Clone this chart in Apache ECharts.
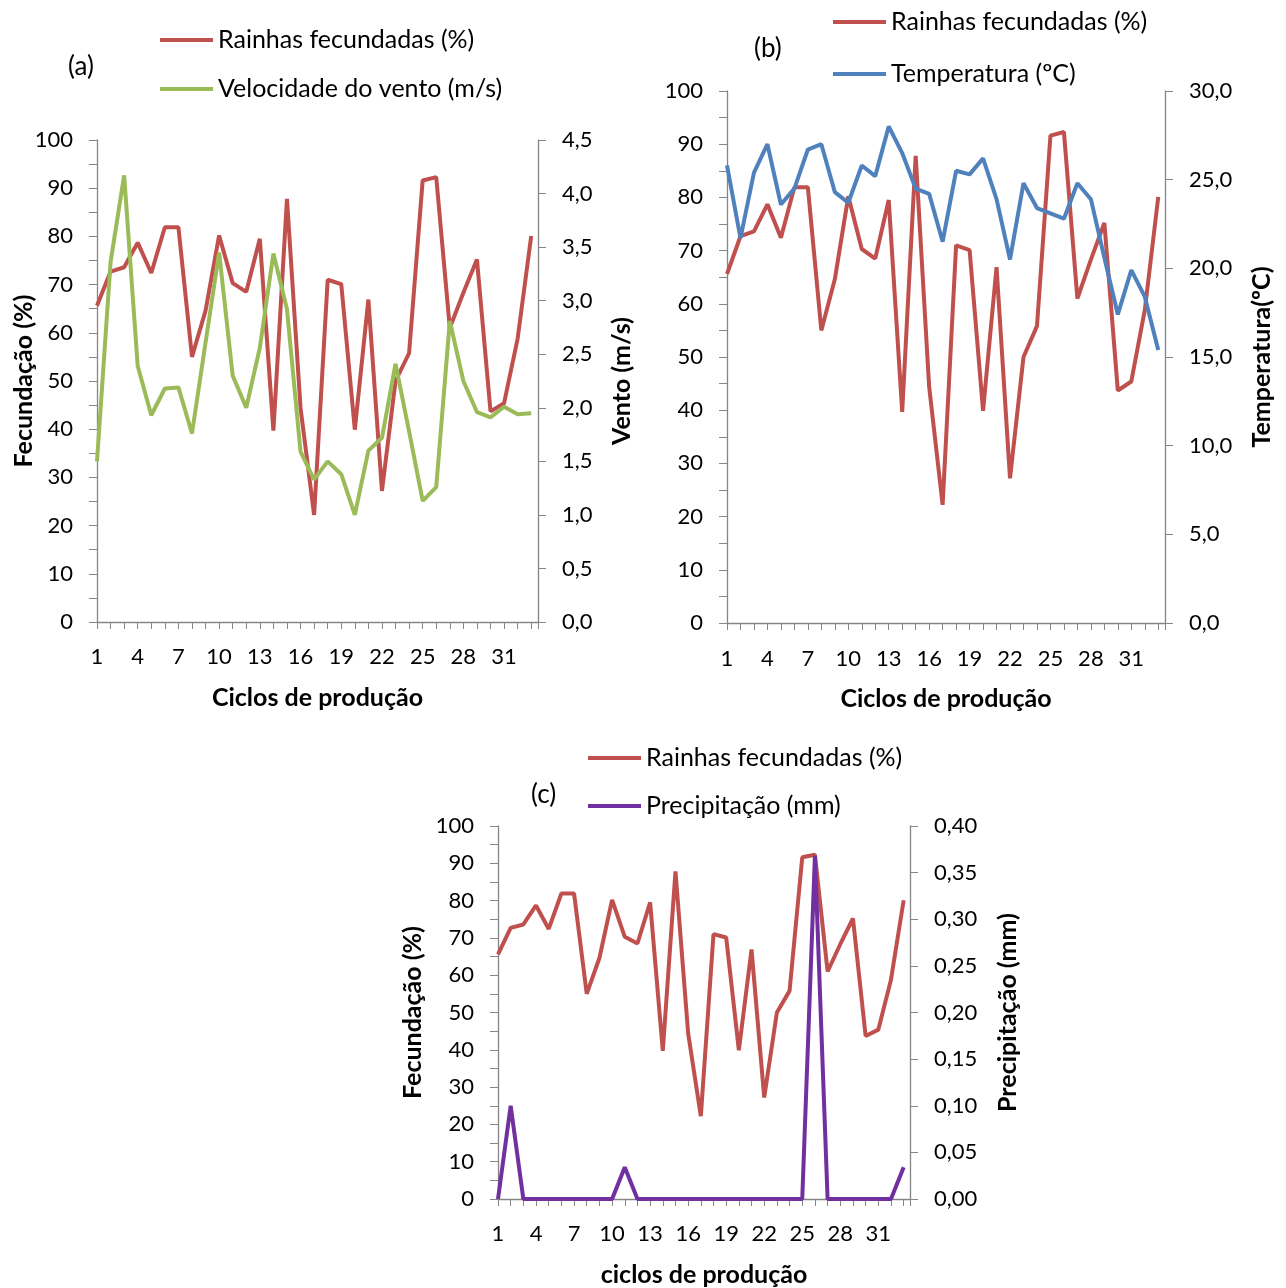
<!DOCTYPE html>
<html>
<head>
<meta charset="utf-8">
<title>Rainhas fecundadas</title>
<script src="https://cdn.jsdelivr.net/npm/echarts@6/dist/echarts.min.js"></script>
<style>
  html,body{margin:0;padding:0;background:#fff}
  #chart{width:1286px;height:1288px}
</style>
</head>
<body>
<div id="chart"></div>
<script>
// ---------- dados ----------
const cycles = [1,2,3,4,5,6,7,8,9,10,11,12,13,14,15,16,17,18,19,20,21,22,23,24,25,26,27,28,29,30,31,32,33];
const fecundadas = [65.6,72.7,73.6,78.7,72.4,81.9,81.9,55.0,64.6,80.2,70.3,68.5,79.5,39.7,87.8,44.4,22.2,
                    71.0,70.1,39.9,66.9,27.2,50.0,55.8,91.6,92.3,61.0,68.3,75.2,43.7,45.4,58.8,80.1];
const vento = [1.50,3.36,4.17,2.39,1.93,2.18,2.19,1.76,2.61,3.45,2.30,2.00,2.56,3.44,2.92,1.59,1.33,
               1.50,1.38,1.00,1.60,1.72,2.41,1.78,1.13,1.26,2.81,2.25,1.96,1.91,2.01,1.94,1.95];
const temperatura = [25.8,21.7,25.4,27.0,23.6,24.5,26.7,27.0,24.3,23.7,25.8,25.2,28.0,26.5,24.5,24.2,21.5,
                     25.5,25.3,26.2,23.9,20.5,24.8,23.4,23.1,22.8,24.8,23.9,20.6,17.4,19.9,18.4,15.4];
const precipitacao = [0,0.10,0,0,0,0,0,0,0,0,0.034,0,0,0,0,0,0,0,0,0,0,0,0,0,0,0.368,0,0,0,0,0,0,0.034];

const nomes = {
  fec:'Rainhas fecundadas (%)',
  vento:'Velocidade do vento (m/s)',
  temp:'Temperatura (ºC)',
  prec:'Precipitação (mm)'
};

// ---------- estilo ----------
const FONT = 'Lato';
const TXT = '#000';
const AX = '#868686';
const RED = '#C0504D', GREEN = '#9BBB59', BLUE = '#4F81BD', PURPLE = '#7030A0';
const TICK_FS = 22, NAME_FS = 25;

const pairs = arr => cycles.map((c,i)=>[c, arr[i]]);
const comma = d => v => v.toFixed(d).replace('.', ',');

function xAxisFor(grid, name, margin, gap){
  return {
    type:'value', gridIndex:grid, min:1, max:33.5, interval:1,
    name, nameLocation:'middle', nameGap:gap, nameMoveOverlap:false,
    nameTextStyle:{fontFamily:FONT, fontSize:NAME_FS, fontWeight:'bold', color:TXT},
    axisLine:{show:true, lineStyle:{color:AX, width:1.3}},
    axisTick:{show:true, length:7, lineStyle:{color:AX}},
    axisLabel:{fontFamily:FONT, fontSize:TICK_FS, color:TXT, margin,
      formatter:v => (Number.isInteger(v) && (v-1)%3===0) ? String(v) : ''},
    splitLine:{show:false}
  };
}
function yLeft(grid, name, gap){
  return {
    type:'value', gridIndex:grid, position:'left', min:0, max:100, interval:10,
    name, nameLocation:'middle', nameRotate:90, nameGap:gap, nameMoveOverlap:false,
    nameTextStyle:{fontFamily:FONT, fontSize:NAME_FS, fontWeight:'bold', color:TXT},
    axisLine:{show:true, lineStyle:{color:AX, width:1.3}},
    axisTick:{show:true, length:8, lineStyle:{color:AX}},
    minorTick:{show:true, splitNumber:2, length:8, lineStyle:{color:AX}},
    axisLabel:{fontFamily:FONT, fontSize:TICK_FS, color:TXT, margin:24},
    splitLine:{show:false}
  };
}
function yRight(grid, name, gap, max, step, dec){
  return {
    type:'value', gridIndex:grid, position:'right', min:0, max, interval:step,
    name, nameLocation:'middle', nameRotate:90, nameGap:gap, nameMoveOverlap:false,
    nameTextStyle:{fontFamily:FONT, fontSize:NAME_FS, fontWeight:'bold', color:TXT},
    axisLine:{show:true, lineStyle:{color:AX, width:1.3}},
    axisTick:{show:true, length:8, lineStyle:{color:AX}},
    axisLabel:{fontFamily:FONT, fontSize:TICK_FS, color:TXT, margin:24, formatter:comma(dec)},
    splitLine:{show:false}
  };
}
function lineSeries(name, data, color, xi, yi){
  return {
    type:'line', name, data:pairs(data), xAxisIndex:xi, yAxisIndex:yi,
    showSymbol:false, symbol:'none', silent:true,
    lineStyle:{color, width:4}, itemStyle:{color}
  };
}
function legendAt(left, top, gap, data){
  return {
    left, top, orient:'vertical', itemGap:gap, padding:0, data,
    icon:'rect', itemWidth:53, itemHeight:4,
    textStyle:{fontFamily:FONT, fontSize:25, color:TXT, lineHeight:26}
  };
}
function tag(text, left, top){
  return {text, left, top, textStyle:{fontFamily:FONT, fontSize:26, fontWeight:'normal', color:TXT}};
}

const chart = echarts.init(document.getElementById('chart'));
chart.setOption({
  animation:false,
  backgroundColor:'#fff',
  title:[ tag('(a)', 63, 49), tag('(b)', 749, 31), tag('(c)', 526, 777) ],
  legend:[
    legendAt(160, 27, 23, [nomes.fec, nomes.vento]),
    legendAt(833, 9, 26, [nomes.fec, nomes.temp]),
    legendAt(588, 745, 22, [nomes.fec, nomes.prec])
  ],
  grid:[
    {left:97,  top:140, width:441, height:482},
    {left:727, top:91,  width:438, height:532},
    {left:498, top:826, width:412, height:373}
  ],
  xAxis:[
    xAxisFor(0, 'Ciclos de produção', 24, 63),
    xAxisFor(1, 'Ciclos de produção', 25, 63),
    xAxisFor(2, 'ciclos de produção', 24, 63)
  ],
  yAxis:[
    yLeft(0, 'Fecundação (%)', 61),
    yRight(0, 'Vento (m/s)', 71, 4.5, 0.5, 1),
    yLeft(1, '', 60),
    yRight(1, 'Temperatura(ºC)', 84, 30, 5, 1),
    yLeft(2, 'Fecundação (%)', 73),
    yRight(2, 'Precipitação (mm)', 85, 0.4, 0.05, 2)
  ],
  series:[
    lineSeries(nomes.fec, fecundadas, RED, 0, 0),
    lineSeries(nomes.vento, vento, GREEN, 0, 1),
    lineSeries(nomes.fec, fecundadas, RED, 1, 2),
    lineSeries(nomes.temp, temperatura, BLUE, 1, 3),
    lineSeries(nomes.fec, fecundadas, RED, 2, 4),
    lineSeries(nomes.prec, precipitacao, PURPLE, 2, 5)
  ]
});
</script>
</body>
</html>
